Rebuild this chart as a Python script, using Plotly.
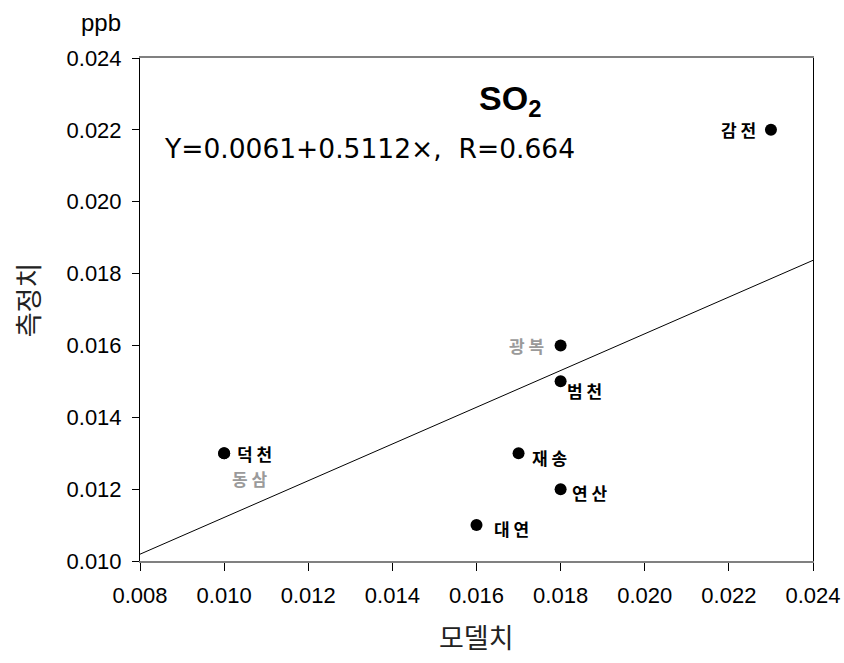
import plotly.graph_objects as go

# Data
stations = ["감 전", "광 복", "범 천", "덕 천", "동 삼", "재 송", "연 산", "대 연"]
model_vals = [0.023, 0.018, 0.018, 0.010, 0.010, 0.017, 0.018, 0.016]
measured_vals = [0.022, 0.016, 0.015, 0.013, 0.013, 0.013, 0.012, 0.011]
label_colors = ["#000000", "#9a9a9a", "#000000", "#000000", "#9a9a9a", "#000000", "#000000", "#000000"]
INTERCEPT = 0.0061
SLOPE = 0.5112
x_range = [0.008, 0.024]
y_range = [0.010, 0.024]

# label placement (style)
anchors = ["right", "right", "left", "left", "left", "left", "left", "left"]
xshifts = [-13, -15, 4, 11, 6, 11, 9, 15]
yshifts = [0, 0, -9, 0, -25, -4, -3, -3]

fig = go.Figure()

fig.add_trace(go.Scatter(
    x=x_range,
    y=[INTERCEPT + SLOPE * v for v in x_range],
    mode="lines",
    line=dict(color="black", width=1),
    hoverinfo="skip",
    showlegend=False,
))

fig.add_trace(go.Scatter(
    x=model_vals,
    y=measured_vals,
    mode="markers",
    marker=dict(color="black", size=12),
    showlegend=False,
))

annotations = []
for name, xv, yv, c, a, xs, ys in zip(stations, model_vals, measured_vals,
                                      label_colors, anchors, xshifts, yshifts):
    annotations.append(dict(
        x=xv, y=yv, xref="x", yref="y", text=f"<b>{name}</b>",
        showarrow=False, xanchor=a, yanchor="middle", xshift=xs, yshift=ys,
        font=dict(family="Noto Sans CJK KR", size=17, color=c),
    ))

annotations += [
    dict(text="<b>SO<sub>2</sub></b>", xref="paper", yref="paper", x=0.550, y=0.915,
         showarrow=False, xanchor="center", yanchor="middle",
         font=dict(family="Liberation Sans, Arial", size=34, color="black")),
    dict(text="Y=0.0061+0.5112×,  R=0.664", xref="paper", yref="paper", x=0.032, y=0.820,
         showarrow=False, xanchor="left", yanchor="middle",
         font=dict(family="DejaVu Sans", size=26.5, color="black")),
    dict(text="ppb", xref="paper", yref="paper", x=-0.025, y=1.0,
         yshift=36, showarrow=False, xanchor="right", yanchor="middle",
         font=dict(family="Liberation Sans, Arial", size=24, color="black")),
    dict(text="측정치", xref="paper", yref="paper", x=-0.166, y=0.519,
         showarrow=False, xanchor="center", yanchor="middle", textangle=-90,
         font=dict(family="Noto Sans CJK KR", size=27, color="#222222")),
    dict(text="모델치", xref="paper", yref="paper", x=0.5, y=-0.150,
         showarrow=False, xanchor="center", yanchor="middle",
         font=dict(family="Noto Sans CJK KR", size=27, color="#222222")),
]

fig.update_layout(
    width=844, height=663,
    margin=dict(l=140, r=31, t=58, b=102, autoexpand=False),
    paper_bgcolor="white", plot_bgcolor="white",
    annotations=annotations,
    font=dict(family="Liberation Sans, Arial", size=22, color="black"),
)
fig.update_xaxes(
    range=x_range, dtick=0.002, tickformat=".3f", automargin=False,
    showgrid=False, zeroline=False,
    showline=True, linecolor="#808080", linewidth=2, mirror=True,
    ticks="outside", ticklen=8, tickcolor="black", tickwidth=1,
    tickfont=dict(size=22), ticklabelstandoff=6,
)
fig.update_yaxes(
    range=y_range, dtick=0.002, tickformat=".3f", automargin=False,
    showgrid=False, zeroline=False,
    showline=True, linecolor="black", linewidth=1, mirror=True,
    ticks="outside", ticklen=7, tickcolor="black", tickwidth=1,
    tickfont=dict(size=22), ticklabelstandoff=6,
)

fig.write_html("out.html")
